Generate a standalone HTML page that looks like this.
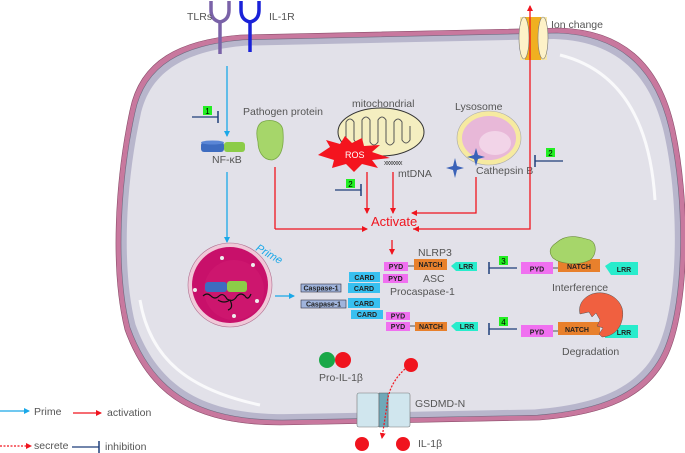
<!DOCTYPE html>
<html><head><meta charset="utf-8"><style>
html,body{margin:0;padding:0;background:#fff;}
svg{display:block;font-family:"Liberation Sans",sans-serif;}
.t{fill:#555;font-size:10.5px;}
.b{font-size:7px;font-weight:bold;fill:#222;text-anchor:middle;}
</style></head><body>
<svg width="685" height="453" viewBox="0 0 685 453" xmlns="http://www.w3.org/2000/svg">
<defs>
<marker id="ar" markerWidth="6" markerHeight="6" refX="5" refY="3" orient="auto" markerUnits="userSpaceOnUse"><path d="M0,0 L6,3 L0,6 Z" fill="#f0141e"/></marker>
<marker id="ab" markerWidth="6" markerHeight="6" refX="5" refY="3" orient="auto" markerUnits="userSpaceOnUse"><path d="M0,0 L6,3 L0,6 Z" fill="#1aa8e8"/></marker>
<path id="cell" d="M130 110 C140 60 180 40 240 35 L560 28 C620 30 660 60 675 130 C690 200 690 300 670 350 C650 400 600 415 540 420 L280 425 C200 425 150 400 125 330 C110 270 115 180 130 110 Z"/>
</defs>
<!-- cell -->
<use href="#cell" fill="#c8789e" stroke="#8a4d6a" stroke-width="0.6"/>
<use href="#cell" fill="#b8b6cc" stroke="#6e6a80" stroke-width="0.6" transform="translate(400 228) scale(0.982 0.975) translate(-400 -228)"/>
<use href="#cell" fill="#e2e1e9" transform="translate(400 228) scale(0.962 0.945) translate(-400 -228)"/>
<path d="M560 55 C620 70 650 120 655 200" stroke="#fff" stroke-width="3" fill="none" opacity="0.8"/>
<path d="M140 300 C150 360 190 390 260 405" stroke="#fff" stroke-width="3" fill="none" opacity="0.8"/>

<!-- receptors -->
<path d="M211 1 L211 10 Q211 20 220 22 Q229 20 229 10 L229 1" stroke="#7a62a8" stroke-width="3.5" fill="none"/>
<line x1="220" y1="22" x2="220" y2="54" stroke="#7a62a8" stroke-width="3.5"/>
<path d="M241 1 L241 10 Q241 20 250 22 Q259 20 259 10 L259 1" stroke="#1a22d8" stroke-width="3.5" fill="none"/>
<line x1="250" y1="22" x2="250" y2="52" stroke="#1a22d8" stroke-width="3.5"/>
<text x="187" y="20" class="t">TLRs</text>
<text x="269" y="20" class="t">IL-1R</text>

<!-- prime arrows -->
<line x1="227" y1="66" x2="227" y2="136" stroke="#1aa8e8" stroke-width="1.3" marker-end="url(#ab)"/>
<line x1="227" y1="172" x2="227" y2="242" stroke="#1aa8e8" stroke-width="1.3" marker-end="url(#ab)"/>
<line x1="275" y1="296" x2="294" y2="296" stroke="#1aa8e8" stroke-width="1.3" marker-end="url(#ab)"/>

<!-- inhibitor 1 -->
<line x1="192" y1="117" x2="218" y2="117" stroke="#1f3f7a" stroke-width="1.3"/>
<line x1="218" y1="111" x2="218" y2="123" stroke="#1f3f7a" stroke-width="1.5"/>
<rect x="203" y="106" width="9" height="9" fill="#22ee22"/><text x="207.5" y="114" font-size="8" text-anchor="middle">1</text>

<!-- NF-kB -->
<rect x="201" y="142" width="23" height="10" rx="3" fill="#3e6cc0"/>
<ellipse cx="212.5" cy="142.5" rx="11.5" ry="2" fill="#5a86d6"/>
<rect x="224" y="142" width="21" height="10" rx="3" fill="#8ccc48"/>
<text x="212" y="163" class="t">NF-κB</text>

<!-- pathogen -->
<text x="243" y="115" class="t">Pathogen protein</text>
<path d="M262 122 C272 118 283 122 283 132 C284 145 282 158 272 160 C262 160 258 150 258 142 C256 134 256 126 262 122 Z" fill="#a6d66a" stroke="#7aa848" stroke-width="0.8"/>
<line x1="275" y1="167" x2="275" y2="229" stroke="#f0141e" stroke-width="1.3"/>
<line x1="275" y1="229" x2="367" y2="229" stroke="#f0141e" stroke-width="1.3" marker-end="url(#ar)"/>

<!-- mitochondria -->
<text x="352" y="107" class="t">mitochondrial</text>
<ellipse cx="381" cy="132" rx="43" ry="24" fill="#f4eec0" stroke="#333" stroke-width="1"/>
<path d="M346 140 L346 122 Q350 116 354 122 L354 140 Q358 146 362 140 L362 120 Q366 114 370 120 L370 142 Q374 148 378 142 L378 120 Q382 114 386 120 L386 142 Q390 148 394 142 L394 122 Q398 116 402 122 L402 140 Q406 146 410 140 L410 126" stroke="#555" stroke-width="1" fill="none"/>
<polygon points="318,155 330,147 326,140 340,144 345,136 352,143 362,138 364,146 380,145 372,152 390,158 372,160 378,168 362,164 354,172 346,164 332,168 334,160" fill="#f4141e"/>
<text x="345" y="158" font-size="9" fill="#fff">ROS</text>
<text x="384" y="165" font-size="7" fill="#444" letter-spacing="-1">xxxxxxx</text>
<text x="398" y="177" class="t">mtDNA</text>
<line x1="367" y1="172" x2="367" y2="213" stroke="#f0141e" stroke-width="1.3" marker-end="url(#ar)"/>
<line x1="393" y1="172" x2="393" y2="213" stroke="#f0141e" stroke-width="1.3" marker-end="url(#ar)"/>
<line x1="335" y1="190" x2="361" y2="190" stroke="#1f3f7a" stroke-width="1.3"/>
<line x1="361" y1="184" x2="361" y2="196" stroke="#1f3f7a" stroke-width="1.5"/>
<rect x="346" y="179" width="9" height="9" fill="#22ee22"/><text x="350.5" y="187" font-size="8" text-anchor="middle">2</text>

<!-- lysosome -->
<text x="455" y="110" class="t">Lysosome</text>
<ellipse cx="489" cy="138" rx="32" ry="27" fill="#f6eaa0" stroke="#aaa" stroke-width="0.6"/>
<ellipse cx="489" cy="138" rx="27" ry="22" fill="#e8b8d8"/>
<ellipse cx="495" cy="143" rx="16" ry="12" fill="#f2d4e8"/>
<path d="M455 158 L457 166 L464 168 L457 170 L455 178 L453 170 L446 168 L453 166 Z" fill="#3a62b8"/>
<path d="M476 148 L478 155 L485 157 L478 159 L476 166 L474 159 L467 157 L474 155 Z" fill="#3a62b8"/>
<text x="476" y="174" class="t">Cathepsin B</text>
<polyline points="476,177 476,213 412,213" stroke="#f0141e" stroke-width="1.3" fill="none" marker-end="url(#ar)"/>
<line x1="563" y1="161" x2="535" y2="161" stroke="#1f3f7a" stroke-width="1.3"/>
<line x1="535" y1="155" x2="535" y2="167" stroke="#1f3f7a" stroke-width="1.5"/>
<rect x="546" y="148" width="9" height="9" fill="#22ee22"/><text x="550.5" y="156" font-size="8" text-anchor="middle">2</text>

<!-- ion channel -->
<rect x="520" y="17" width="27" height="43" fill="#f8e8a8"/>
<rect x="525" y="17" width="16" height="43" fill="#f0b020"/>
<ellipse cx="524" cy="38" rx="5" ry="21" fill="#fdf2c8" stroke="#777" stroke-width="0.6"/>
<ellipse cx="543" cy="38" rx="5" ry="21" fill="#fdf2c8" stroke="#777" stroke-width="0.6"/>
<text x="551" y="28" class="t">Ion change</text>
<polyline points="413,229 530,229 530,6" stroke="#f0141e" stroke-width="1.3" fill="none" marker-end="url(#ar)"/>
<path d="M419 226 L413 229 L419 232 Z" fill="#f0141e"/>

<text x="371" y="226" font-size="13" fill="#f0141e">Activate</text>
<line x1="392" y1="240" x2="392" y2="254" stroke="#f0141e" stroke-width="1.3" marker-end="url(#ar)"/>

<!-- nucleus -->
<circle cx="230" cy="285" r="42" fill="#f0c8d8" stroke="#b07090" stroke-width="0.6"/>
<circle cx="230" cy="285" r="38" fill="#c8106a"/>
<circle cx="234" cy="290" r="30" fill="#d01a72" opacity="0.6"/>
<circle cx="222" cy="258" r="2" fill="#eee"/><circle cx="253" cy="265" r="2" fill="#eee"/><circle cx="195" cy="290" r="2" fill="#eee"/><circle cx="234" cy="316" r="2" fill="#eee"/><circle cx="257" cy="301" r="2" fill="#eee"/>
<rect x="205" y="282" width="22" height="10" rx="3" fill="#3e6cc0"/>
<rect x="227" y="281" width="20" height="11" rx="3" fill="#8ccc48"/>
<path d="M203 296 q4 -4 8 0 q4 4 8 0 q4 -4 8 3 q6 4 10 -3 q4 -4 8 0 q3 5 6 -2 M218 300 q6 4 12 0 q4 8 -2 10" stroke="#111" stroke-width="1.2" fill="none"/>
<text x="255" y="250" font-size="11" fill="#1aa8e8" font-style="italic" transform="rotate(30 255 250)">Prime</text>

<!-- domains -->
<g>
<text x="418" y="256" class="t">NLRP3</text>
<rect x="384" y="262" width="24" height="9" fill="#f070f0"/><text x="396" y="269" class="b">PYD</text>
<line x1="408" y1="266" x2="414" y2="266" stroke="#555"/>
<rect x="414" y="259" width="33" height="11" fill="#e8802c"/><text x="430.5" y="267" class="b">NATCH</text>
<polygon points="451,266 456,262 477,262 477,271 456,271" fill="#28eccc"/><text x="466" y="269" class="b">LRR</text>

<rect x="349" y="272" width="31" height="10" fill="#38c0f0"/><text x="364.5" y="280" class="b">CARD</text>
<rect x="383" y="274" width="25" height="9" fill="#f070f0"/><text x="395.5" y="281" class="b">PYD</text>
<text x="423" y="282" class="t">ASC</text>

<rect x="301" y="284" width="40" height="8" fill="#a0b4dc" stroke="#334" stroke-width="0.6"/><text x="321" y="290.5" class="b" font-size="6">Caspase-1</text>
<rect x="348" y="283" width="32" height="10" fill="#38c0f0"/><text x="364" y="291" class="b">CARD</text>
<text x="390" y="295" class="t">Procaspase-1</text>

<rect x="301" y="300" width="45" height="8" fill="#a0b4dc" stroke="#334" stroke-width="0.6"/><text x="323.5" y="306.5" class="b" font-size="6">Caspase-1</text>
<rect x="348" y="298" width="32" height="10" fill="#38c0f0"/><text x="364" y="306" class="b">CARD</text>

<rect x="351" y="310" width="32" height="9" fill="#38c0f0"/><text x="367" y="317" class="b">CARD</text>
<rect x="386" y="312" width="24" height="8" fill="#f070f0"/><text x="398" y="318.5" class="b">PYD</text>

<rect x="386" y="322" width="24" height="9" fill="#f070f0"/><text x="398" y="329" class="b">PYD</text>
<line x1="410" y1="326" x2="415" y2="326" stroke="#555"/>
<rect x="415" y="322" width="32" height="9" fill="#e8802c"/><text x="431" y="329" class="b">NATCH</text>
<polygon points="451,326 456,322 478,322 478,331 456,331" fill="#28eccc"/><text x="467" y="329" class="b">LRR</text>
</g>

<!-- inhibitor 3 -->
<line x1="489" y1="268" x2="517" y2="268" stroke="#1f3f7a" stroke-width="1.3"/>
<line x1="489" y1="262" x2="489" y2="274" stroke="#1f3f7a" stroke-width="1.5"/>
<rect x="499" y="256" width="9" height="9" fill="#22ee22"/><text x="503.5" y="264" font-size="8" text-anchor="middle">3</text>
<rect x="521" y="262" width="32" height="12" fill="#f070f0"/><text x="537" y="271.5" class="b" font-size="8.5">PYD</text>
<line x1="553" y1="268" x2="558" y2="268" stroke="#555"/>
<rect x="558" y="259" width="42" height="13" fill="#e8802c"/><text x="579" y="269" class="b" font-size="8.5">NATCH</text>
<polygon points="605,266 611,262 638,262 638,275 611,275" fill="#28eccc"/><text x="624" y="272" class="b" font-size="8.5">LRR</text>
<path d="M556 243 C568 232 582 238 590 240 C598 244 596 256 590 260 C578 266 560 264 553 258 C548 252 550 247 556 243 Z" fill="#a6d66a" stroke="#6a8a3a" stroke-width="0.6"/>
<text x="552" y="291" class="t">Interference</text>

<!-- inhibitor 4 -->
<line x1="489" y1="329" x2="517" y2="329" stroke="#1f3f7a" stroke-width="1.3"/>
<line x1="489" y1="323" x2="489" y2="335" stroke="#1f3f7a" stroke-width="1.5"/>
<rect x="499" y="317" width="9" height="9" fill="#22ee22"/><text x="503.5" y="325" font-size="8" text-anchor="middle">4</text>
<rect x="521" y="325" width="32" height="12" fill="#f070f0"/><text x="537" y="334.5" class="b" font-size="8.5">PYD</text>
<line x1="553" y1="331" x2="558" y2="331" stroke="#555"/>
<rect x="605" y="325" width="33" height="13" fill="#28eccc"/><text x="624" y="335" class="b" font-size="8.5">LRR</text>
<rect x="558" y="322" width="42" height="13" fill="#e8802c"/><text x="577" y="332" class="b" font-size="8.5">NATCH</text>
<path d="M602 337 C620 336 625 318 622 308 C618 296 604 290 592 294 C582 298 578 306 580 314 L589 312 L592 317 L596 313 L600 320 L597 326 L603 328 L599 334 Z" fill="#f06040" stroke="#555" stroke-width="0.5"/>
<text x="562" y="355" class="t">Degradation</text>

<!-- IL-1b -->
<circle cx="327" cy="360" r="8" fill="#1aa848"/>
<circle cx="343" cy="360" r="8" fill="#f0141e"/>
<text x="319" y="381" class="t">Pro-IL-1β</text>
<circle cx="411" cy="365" r="7" fill="#f0141e"/>
<rect x="357" y="393" width="53" height="34" fill="#c8e0ea"/>
<rect x="357" y="393" width="22" height="34" rx="2" fill="#d0e6ee" stroke="#777" stroke-width="0.6"/>
<rect x="388" y="393" width="22" height="34" rx="2" fill="#d0e6ee" stroke="#777" stroke-width="0.6"/>
<rect x="379" y="393" width="9" height="34" fill="#70a8b8" stroke="#555" stroke-width="0.5"/>
<text x="415" y="407" class="t">GSDMD-N</text>
<path d="M405 369 C395 378 388 390 387 405 L382 438" stroke="#f0141e" stroke-width="1.2" stroke-dasharray="2,1.5" fill="none" marker-end="url(#ar)"/>
<circle cx="362" cy="444" r="7" fill="#f0141e"/>
<circle cx="403" cy="444" r="7" fill="#f0141e"/>
<text x="418" y="447" class="t">IL-1β</text>

<!-- legend -->
<line x1="0" y1="411" x2="29" y2="411" stroke="#1aa8e8" stroke-width="1.3" marker-end="url(#ab)"/>
<text x="34" y="415" class="t">Prime</text>
<line x1="73" y1="413" x2="101" y2="413" stroke="#f0141e" stroke-width="1.3" marker-end="url(#ar)"/>
<text x="107" y="416" class="t">activation</text>
<line x1="0" y1="446" x2="31" y2="446" stroke="#f0141e" stroke-width="1.2" stroke-dasharray="2,1.5" marker-end="url(#ar)"/>
<text x="34" y="449" class="t">secrete</text>
<line x1="72" y1="447" x2="99" y2="447" stroke="#1f3f7a" stroke-width="1.3"/>
<line x1="99" y1="441" x2="99" y2="453" stroke="#1f3f7a" stroke-width="1.5"/>
<text x="105" y="450" class="t">inhibition</text>
</svg>
</body></html>
